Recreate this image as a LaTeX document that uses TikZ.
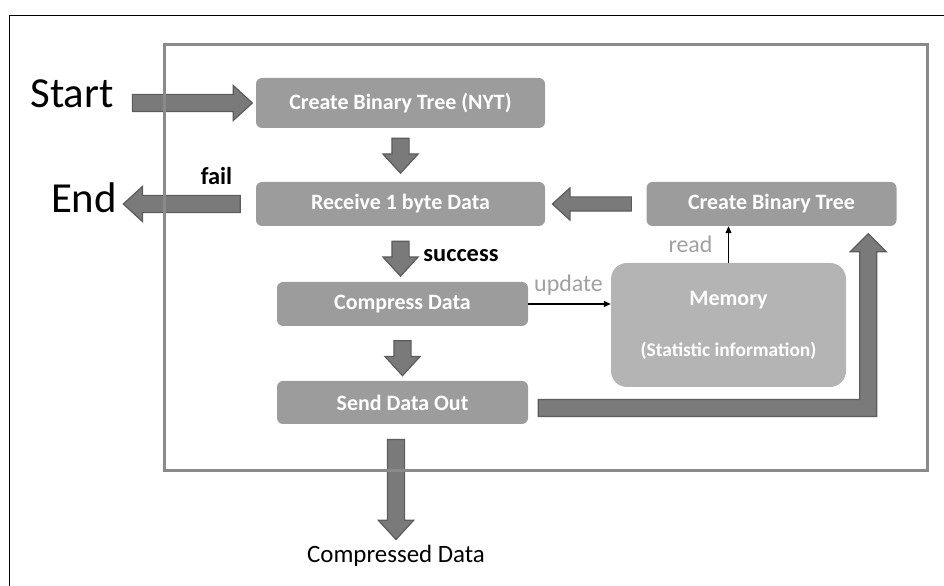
\documentclass[tikz,border=0pt]{standalone}
\usepackage{fontspec}
\setmainfont{Carlito}
\usetikzlibrary{shapes.arrows,calc,arrows.meta}
\definecolor{boxgray}{RGB}{156,156,156}
\definecolor{memgray}{RGB}{180,180,180}
\definecolor{arrowfill}{RGB}{122,122,122}
\definecolor{arrowline}{RGB}{92,92,92}
\definecolor{framegray}{RGB}{138,138,138}
\definecolor{notegray}{RGB}{160,160,160}

\begin{document}
\begin{tikzpicture}[x=1bp,y=1bp,
    stage/.style={rectangle,rounded corners=6bp,fill=boxgray,text=white,
      font=\fontsize{22}{26}\selectfont\bfseries,inner sep=0pt},
    memory/.style={stage,rounded corners=16bp,fill=memgray},
    fatarrow/.style={single arrow,draw=arrowline,fill=arrowfill,line width=1.2bp,
      inner xsep=0pt,inner ysep=8bp,single arrow head extend=9bp,single arrow tip angle=85,
      sloped,allow upside down,anchor=center},
    fatline/.style={draw=arrowline,fill=arrowfill,line width=1.2bp},
    link/.style={-{Triangle[length=7bp,width=6bp]},line width=1.1bp},
    note/.style={text=notegray,font=\fontsize{24}{28}\selectfont,inner sep=0pt},
    big/.style={font=\fontsize{43}{50}\selectfont,inner sep=0pt},
    tag/.style={font=\fontsize{24.5}{29}\selectfont\bfseries,inner sep=0pt}]
  \useasboundingbox (0,0) rectangle (944,586);
  \draw[line width=1bp] (9.5,0) |- (944,570.5);

  % stages
  \node[stage,minimum width=289bp,minimum height=50bp] (nyt) at (400.5,483) {Create Binary Tree (NYT)};
  \node[stage,minimum width=289bp,minimum height=44bp] (recv) at (400.5,382) {Receive 1 byte Data};
  \node[stage,minimum width=250bp,minimum height=44bp] (cbt) at (771.5,382) {Create Binary Tree};
  \node[stage,minimum width=251bp,minimum height=44bp] (comp) at (402.5,282) {Compress Data};
  \node[stage,minimum width=251bp,minimum height=43bp] (send) at (402.5,183.5) {Send Data Out};
  \node[memory,minimum width=235bp,minimum height=124bp,align=center] (mem) at (728.5,261)
    {Memory\\[25bp]{\fontsize{19.5}{23}\selectfont(Statistic information)}};

  % labels
  \node[big,anchor=base] (start) at (72,478) {Start};
  \node[big,anchor=base] (end) at (84,373) {End};
  \node[tag,anchor=base] (fail) at (216.5,401) {fail};
  \node[tag,anchor=base] (ok) at (461,324) {success};
  \node[note,anchor=base] (upd) at (568.5,294) {update};
  \node[note,anchor=base] (rd) at (690.5,333) {read};
  \node[font=\fontsize{25}{30}\selectfont,anchor=base,inner sep=0pt] (out) at (396,23) {Compressed Data};

  % block arrows
  \path (nyt.west -| start.east) -- node[fatarrow,minimum height=120bp,pos=0.52] {} (nyt.west);
  \path (recv.west) -- node[fatarrow,minimum height=117bp] {} (recv.west -| end.east);
  \path (nyt.south) -- node[fatarrow,minimum height=35bp,xshift=-4bp] {} (recv.north);
  \path (recv.south) -- node[fatarrow,minimum height=35bp] {} (recv.south |- comp.north);
  \path (comp.south) -- node[fatarrow,minimum height=35bp] {} (send.north);
  \path (cbt.west) -- node[fatarrow,minimum height=79bp,inner ysep=6.5bp] {} (recv.east);
  \path (out.north |- send.south) -- node[fatarrow,minimum height=100bp] {} (out.north);

  % loop back to the tree
  \coordinate (ltail) at ([xshift=10bp,yshift=-5.5bp]send.east);
  \coordinate (ltip) at ([xshift=-28.5bp,yshift=-7.5bp]cbt.south east);
  \draw[fatline] ($(ltail)+(0,8.5)$) -- ($(ltip|-ltail)+(-8.5,8.5)$) -- ($(ltip)+(-8.5,-18)$)
    -- ($(ltip)+(-18,-18)$) -- (ltip) -- ($(ltip)+(18,-18)$) -- ($(ltip)+(8.5,-18)$)
    -- ($(ltip|-ltail)+(8.5,-8.5)$) -- ($(ltail)+(0,-8.5)$) -- cycle;

  % memory access
  \draw[link] (comp.east) -- (comp.east -| mem.west);
  \draw[link] (mem.north) -- (mem.north |- cbt.south);

  \draw[framegray,line width=3bp] (164,115) rectangle (927,541);
\end{tikzpicture}
\end{document}
